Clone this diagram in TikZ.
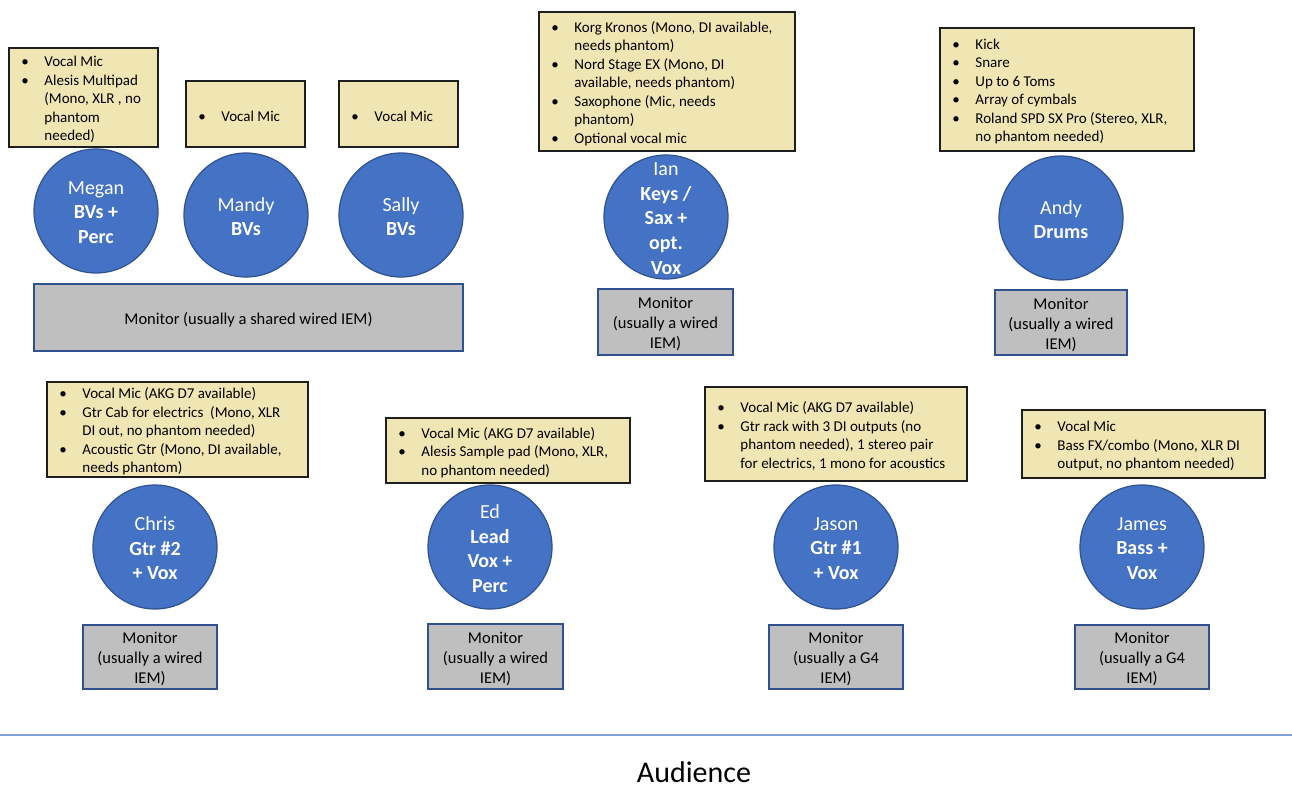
\documentclass[tikz,border=0pt]{standalone}
\usepackage{fontspec}
\setmainfont{Carlito}
\usepackage{enumitem}
\definecolor{circfill}{HTML}{4472C4}
\definecolor{circline}{HTML}{2F528F}
\definecolor{infofill}{RGB}{240,230,180}
\definecolor{infoline}{HTML}{1E1E1E}
\definecolor{monfill}{HTML}{BFBFBF}
\definecolor{audline}{HTML}{7F9FDA}
\tikzset{
  person/.style={circle, fill=circfill, draw=circline, line width=1.2pt, minimum size=124pt, inner sep=0pt},
  persontext/.style={inner sep=0pt, text=white, align=center, font=\fontsize{20}{24.6}\selectfont},
  infobox/.style={rectangle, fill=infofill, draw=infoline, line width=1.5pt, inner sep=0pt},
  infotext/.style={anchor=west, inner sep=0pt, font=\fontsize{15}{18.5}\selectfont, text=black},
  monbox/.style={rectangle, fill=monfill, draw=circline, line width=1.2pt, inner sep=0pt},
  montext/.style={inner sep=0pt, align=center, font=\fontsize{16.5}{20}\selectfont, text=black},
}
\newcommand\InfoBox[6]{%
  \node[infobox, minimum width={#4-#2}, minimum height={#5-#3}] (#1) at ({(#2+#4)/2},{(#3+#5)/2}) {};
  \node[infotext] (#1-t) at ([xshift=13pt,yshift=-2pt]#1.west) {%
    \begin{minipage}{\dimexpr #4pt-#2pt-16pt\relax}\raggedright
    \begin{itemize}[leftmargin=23pt,labelsep=0pt,labelwidth=23pt,align=left,itemsep=0pt,topsep=0pt,parsep=0pt,partopsep=0pt,label=\textbullet]
    #6
    \end{itemize}
    \end{minipage}};
}
\newcommand\Person[4]{%
  \node[person] (#1) at (#2,#3) {};
  \node[persontext] (#1-t) at ([yshift=-1.5pt]#1.center) {#4};
}
\newcommand\Monitor[6]{%
  \node[monbox, minimum width=#4pt, minimum height=#5pt] (#1) at (#2,#3) {};
  \node[montext] (#1-t) at ([yshift=-2pt]#1.center) {#6};
}
\begin{document}
\begin{tikzpicture}[x=1pt,y=-1pt]
\useasboundingbox (0,0) rectangle (1292,787);
\fill[white] (0,0) rectangle (1292,787);

% info boxes
\InfoBox{megan-info}{9}{48}{158}{147}{\item Vocal Mic
  \item Alesis Multipad\newline(Mono, XLR , no\newline phantom\newline needed)}
\InfoBox{mandy-info}{186}{81}{305}{147}{\item Vocal Mic}
\InfoBox{sally-info}{339}{81}{458}{147}{\item Vocal Mic}
\InfoBox{ian-info}{539}{12}{795}{151}{\item Korg Kronos (Mono, DI available,\newline needs phantom)
  \item Nord Stage EX (Mono, DI\newline available, needs phantom)
  \item Saxophone (Mic, needs\newline phantom)
  \item Optional vocal mic}
\InfoBox{andy-info}{940}{28}{1194}{151}{\item Kick
  \item Snare
  \item Up to 6 Toms
  \item Array of cymbals
  \item Roland SPD SX Pro (Stereo, XLR,\newline no phantom needed)}
\InfoBox{chris-info}{47}{382}{308}{477}{\item Vocal Mic (AKG D7 available)
  \item Gtr Cab for electrics~ (Mono, XLR\newline DI out, no phantom needed)
  \item Acoustic Gtr (Mono, DI available,\newline needs phantom)}
\InfoBox{ed-info}{386}{418}{630}{483}{\item Vocal Mic (AKG D7 available)
  \item Alesis Sample pad (Mono, XLR,\newline no phantom needed)}
\InfoBox{jason-info}{705}{387}{967}{481}{\item Vocal Mic (AKG D7 available)
  \item Gtr rack with 3 DI outputs (no\newline phantom needed), 1 stereo pair\newline for electrics, 1 mono for acoustics}
\InfoBox{james-info}{1022}{410}{1265}{478}{\item Vocal Mic
  \item Bass FX/combo (Mono, XLR DI\newline output, no phantom needed)}

% people
\Person{megan}{96}{211}{Megan\\\textbf{BVs +}\\\textbf{Perc}}
\Person{mandy}{246}{215}{Mandy\\\textbf{BVs}}
\Person{sally}{401}{215}{Sally\\\textbf{BVs}}
\Person{ian}{666}{217}{Ian\\\textbf{Keys /}\\\textbf{Sax +}\\\textbf{opt.}\\\textbf{Vox}}
\Person{andy}{1061}{218}{Andy\\\textbf{Drums}}
\Person{chris}{155}{547}{Chris\\\textbf{Gtr \#2}\\\textbf{+ Vox}}
\Person{ed}{490}{547}{Ed\\\textbf{Lead}\\\textbf{Vox +}\\\textbf{Perc}}
\Person{jason}{836}{547}{Jason\\\textbf{Gtr \#1}\\\textbf{+ Vox}}
\Person{james}{1142}{547}{James\\\textbf{Bass +}\\\textbf{Vox}}

% monitors
\Monitor{mon-shared}{248.5}{317.5}{429}{67}{Monitor (usually a shared wired IEM)}
\Monitor{mon-ian}{665.5}{322}{135}{66}{Monitor\\(usually a wired\\IEM)}
\Monitor{mon-andy}{1061}{322.5}{132}{65}{Monitor\\(usually a wired\\IEM)}
\Monitor{mon-chris}{150}{657}{134}{64}{Monitor\\(usually a wired\\IEM)}
\Monitor{mon-ed}{495.5}{656.5}{135}{65}{Monitor\\(usually a wired\\IEM)}
\Monitor{mon-jason}{836}{657}{134}{64}{Monitor\\(usually a G4\\IEM)}
\Monitor{mon-james}{1142}{657}{134}{64}{Monitor\\(usually a G4\\IEM)}

% audience
\coordinate (edge-l) at (0,735);
\coordinate (edge-r) at (1292,735);
\draw[audline, line width=1.3pt] (edge-l) -- (edge-r);
\node[inner sep=0pt, font=\fontsize{30}{36}\selectfont, text=black] (audience) at (694,772) {Audience};
\end{tikzpicture}
\end{document}
